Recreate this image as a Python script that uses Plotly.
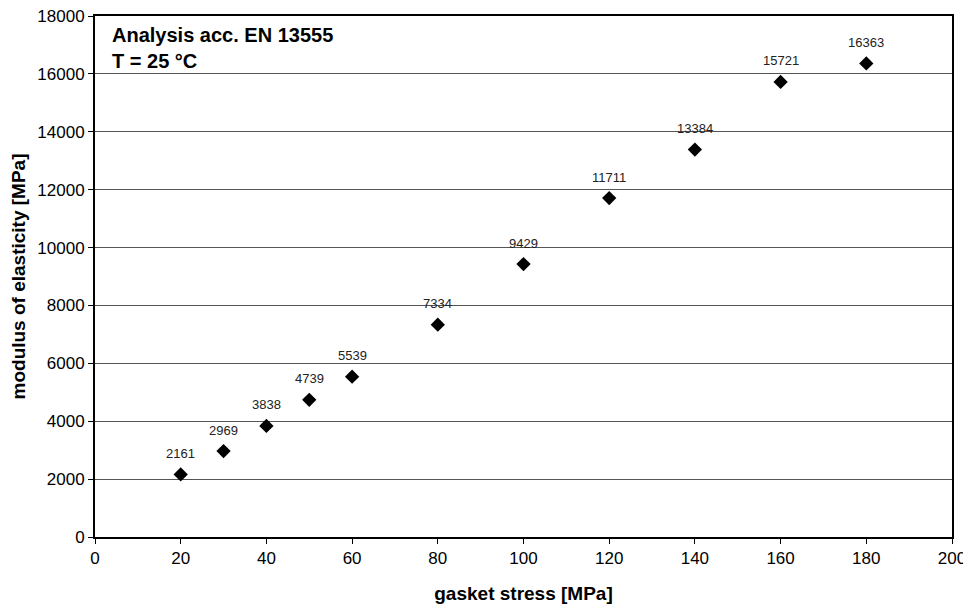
import plotly.graph_objects as go

gasket_stress = [20, 30, 40, 50, 60, 80, 100, 120, 140, 160, 180]
modulus = [2161, 2969, 3838, 4739, 5539, 7334, 9429, 11711, 13384, 15721, 16363]
labels = [str(v) for v in modulus]
x_ticks = list(range(0, 201, 20))
y_ticks = list(range(0, 18001, 2000))

FONT = "Liberation Sans, Arial, sans-serif"

fig = go.Figure()
fig.add_trace(go.Scatter(
    x=gasket_stress, y=modulus, mode="markers",
    marker=dict(symbol="diamond", size=11, color="black"),
    showlegend=False, cliponaxis=False,
))

annotations = [dict(
    x=gx, y=gy, xref="x", yref="y", text=lab, showarrow=False,
    yshift=21, font=dict(family=FONT, size=13, color="#222"),
) for gx, gy, lab in zip(gasket_stress, modulus, labels)]

annotations.append(dict(
    text="<b>Analysis acc. EN 13555<br>T = 25 °C</b>",
    xref="paper", yref="paper", x=0.018, y=0.988,
    xanchor="left", yanchor="top", align="left", showarrow=False,
    font=dict(size=20, family=FONT, color="black"),
))

# page body has an 8px default margin, so the figure is sized to fit the window
fig.update_layout(
    width=963, height=596,
    margin=dict(l=87, r=19, t=8, b=67),
    paper_bgcolor="white", plot_bgcolor="white",
    font=dict(family=FONT, color="black"),
    xaxis=dict(
        range=[0, 200], tickvals=x_ticks, ticktext=[str(v) for v in x_ticks],
        ticks="outside", ticklen=5, automargin=False, ticklabeloverflow="allow",
        tickcolor="black", showline=True, linecolor="black", linewidth=2,
        mirror=True, showgrid=False, zeroline=False,
        tickfont=dict(size=17, family=FONT),
        title=dict(text="<b>gasket stress [MPa]</b>", font=dict(size=19, family=FONT), standoff=19),
    ),
    yaxis=dict(
        range=[0, 18000], tickvals=y_ticks, ticktext=[str(v) for v in y_ticks],
        ticks="outside", ticklen=5, automargin=False, ticklabeloverflow="allow",
        tickcolor="black", showline=True, linecolor="black", linewidth=2,
        mirror=True, showgrid=True, gridcolor="#555555", gridwidth=1,
        zeroline=False, tickfont=dict(size=17, family=FONT),
        title=dict(text="<b>modulus of elasticity [MPa]</b>", font=dict(size=19, family=FONT), standoff=12),
    ),
    annotations=annotations,
)

fig.write_html("out.html")
